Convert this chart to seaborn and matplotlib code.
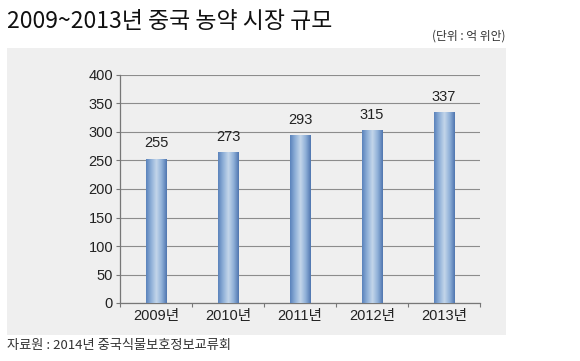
import numpy as np
import pandas as pd
import matplotlib
matplotlib.use("Agg")
import matplotlib.pyplot as plt
import seaborn as sns
from matplotlib.colors import LinearSegmentedColormap
from matplotlib.patches import Rectangle

# data
years = ["2009년", "2010년", "2011년", "2012년", "2013년"]
value_labels = [255, 273, 293, 315, 337]
# bar tops as drawn in the picture (they don't quite agree with the labels)
bar_heights = [253, 265, 295, 303, 335]
y_ticks = [0, 50, 100, 150, 200, 250, 300, 350, 400]

sns.set_theme(style="white")
plt.rcParams["font.family"] = ["Liberation Sans", "Noto Sans CJK KR", "DejaVu Sans"]
kr_font = ["Noto Sans CJK KR", "DejaVu Sans"]

df = pd.DataFrame({"year": years, "height": bar_heights})

fig = plt.figure(figsize=(5.8, 3.61), dpi=100)
fig.patch.set_facecolor("white")

# grey panel behind the chart
fig.patches.append(Rectangle((7 / 580, 1 - 335 / 361), 499 / 580, 287 / 361,
                             transform=fig.transFigure, facecolor="#efefef",
                             edgecolor="none", zorder=-1))

ax = fig.add_axes([120 / 580, 1 - 303 / 361, 360 / 580, 228 / 361])
ax.set_zorder(1)
ax.set_facecolor("none")

sns.barplot(data=df, x="year", y="height", ax=ax, width=0.28,
            color="#7a9ccc", edgecolor="none", zorder=3)

# cylinder-like shading on each bar
cmap = LinearSegmentedColormap.from_list(
    "bar", ["#5a82bb", "#8fb0d8", "#c3d6ea", "#8fb0d8", "#4f75af"])
grad = np.linspace(0, 1, 256).reshape(1, -1)
for p in ax.patches:
    x0, y0 = p.get_x(), p.get_y()
    w, h = p.get_width(), p.get_height()
    im = ax.imshow(grad, cmap=cmap, aspect="auto", extent=[x0, x0 + w, y0, y0 + h],
                   zorder=4)
    im.set_clip_path(p)

for i, v in enumerate(value_labels):
    ax.annotate(str(v), (i, bar_heights[i]), xytext=(0, 6), textcoords="offset points",
                ha="center", va="bottom", fontsize=10.5, color="#222222")

ax.set_xlim(-0.5, 4.5)
ax.set_ylim(0, 400)
ax.set_yticks(y_ticks)
ax.yaxis.grid(True, color="#8c8c8c", linewidth=0.8, zorder=1)
ax.set_axisbelow(True)
ax.set_xlabel("")
ax.set_ylabel("")

for s in ["top", "right"]:
    ax.spines[s].set_visible(False)
for s in ["left", "bottom"]:
    ax.spines[s].set_color("#777777")
    ax.spines[s].set_linewidth(0.9)

ax.tick_params(axis="y", which="major", length=3, width=0.8, color="#777777",
               labelsize=10.5, labelcolor="#222222", pad=2, left=True)
ax.tick_params(axis="x", which="major", length=0, labelsize=10.5,
               labelcolor="#222222", pad=4)
ax.set_xticks(np.arange(-0.5, 5, 1), minor=True)
ax.tick_params(axis="x", which="minor", length=3, width=0.8, color="#777777",
               bottom=True)

fig.text(7 / 580, 1 - 21 / 361, "2009~2013년 중국 농약 시장 규모", fontsize=16.5,
         ha="left", va="center", color="#111111", family=kr_font)
fig.text(505 / 580, 1 - 36 / 361, "(단위 : 억 위안)", fontsize=8.5,
         ha="right", va="center", color="#333333", family=kr_font)
fig.text(7 / 580, 1 - 346 / 361, "자료원 : 2014년 중국식물보호정보교류회", fontsize=9.5,
         ha="left", va="center", color="#333333", family=kr_font)

fig.savefig("out.png", dpi=100)
